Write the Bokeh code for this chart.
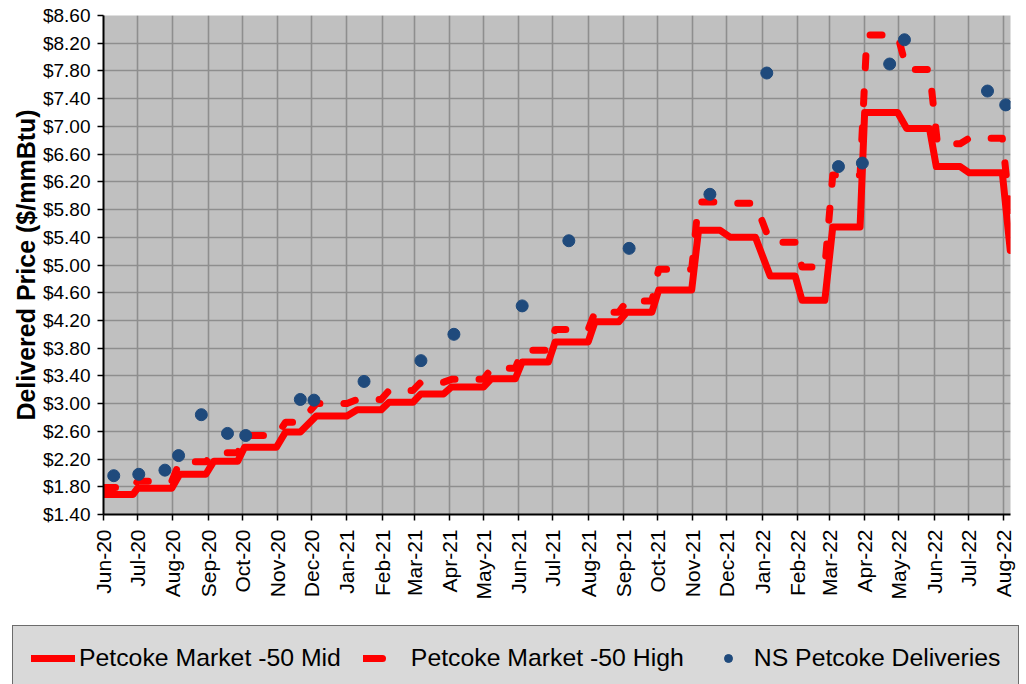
import numpy as np
import pandas as pd
from bokeh.plotting import figure
from bokeh.layouts import column
from bokeh.models import (Legend, LegendItem, FixedTicker, NumeralTickFormatter, Range1d)
from bokeh.embed import file_html
from bokeh.resources import INLINE

# ---------------- data ----------------
mid_dates = ["2020-06-01", "2020-06-27", "2020-07-01", "2020-07-31", "2020-08-07", "2020-08-30",
             "2020-09-06", "2020-09-27", "2020-10-03", "2020-10-31", "2020-11-08", "2020-11-21",
             "2020-12-05", "2021-01-01", "2021-01-10", "2021-01-31", "2021-02-07", "2021-02-28",
             "2021-03-07", "2021-03-27", "2021-04-03", "2021-05-01", "2021-05-08", "2021-05-29",
             "2021-06-04", "2021-06-27", "2021-07-03", "2021-08-01", "2021-08-07", "2021-08-28",
             "2021-09-04", "2021-09-26", "2021-10-02", "2021-10-31", "2021-11-06", "2021-11-25",
             "2021-12-04", "2021-12-26", "2022-01-08", "2022-01-30", "2022-02-05", "2022-02-25",
             "2022-03-04", "2022-03-28", "2022-04-01", "2022-04-30", "2022-05-08", "2022-05-28",
             "2022-06-03", "2022-06-24", "2022-07-02", "2022-07-31", "2022-08-07"]
mid_values = [1.69, 1.69, 1.78, 1.78, 1.98, 1.98, 2.17, 2.17, 2.37, 2.37, 2.59, 2.59,
              2.82, 2.82, 2.91, 2.91, 3.02, 3.02, 3.14, 3.14, 3.24, 3.24, 3.36, 3.36,
              3.60, 3.60, 3.89, 3.89, 4.18, 4.18, 4.32, 4.32, 4.64, 4.64, 5.50, 5.50,
              5.40, 5.40, 4.84, 4.84, 4.49, 4.49, 5.55, 5.55, 7.20, 7.20, 6.97, 6.97,
              6.42, 6.42, 6.33, 6.33, 5.21]

high_dates = ["2020-06-01", "2020-06-27", "2020-07-01", "2020-07-31", "2020-08-07", "2020-08-30",
              "2020-09-06", "2020-09-27", "2020-10-03", "2020-10-31", "2020-11-08", "2020-11-21",
              "2020-12-05", "2021-01-01", "2021-01-10", "2021-01-31", "2021-02-07", "2021-02-28",
              "2021-03-07", "2021-03-27", "2021-04-03", "2021-05-01", "2021-05-08", "2021-05-29",
              "2021-06-04", "2021-06-27", "2021-07-03", "2021-08-01", "2021-08-07", "2021-08-28",
              "2021-09-04", "2021-09-26", "2021-10-02", "2021-10-31", "2021-11-06", "2021-11-25",
              "2021-12-04", "2021-12-26", "2022-01-08", "2022-01-30", "2022-02-05", "2022-02-25",
              "2022-03-04", "2022-03-28", "2022-04-03", "2022-04-30", "2022-05-08", "2022-05-28",
              "2022-06-04", "2022-06-24", "2022-07-02", "2022-07-31", "2022-08-07"]
high_values = [1.79, 1.79, 1.88, 1.88, 2.16, 2.16, 2.29, 2.29, 2.54, 2.54, 2.73, 2.73,
               3.00, 3.00, 3.06, 3.06, 3.19, 3.19, 3.31, 3.31, 3.35, 3.35, 3.51, 3.51,
               3.77, 3.77, 4.07, 4.07, 4.32, 4.32, 4.48, 4.48, 4.94, 4.94, 5.91, 5.91,
               5.89, 5.89, 5.33, 5.33, 4.97, 4.97, 6.30, 6.30, 8.32, 8.32, 7.82, 7.82,
               6.75, 6.75, 6.83, 6.83, 5.75]

dot_dates = ["2020-06-10", "2020-07-02", "2020-07-25", "2020-08-06", "2020-08-26", "2020-09-18",
             "2020-10-04", "2020-11-21", "2020-12-03", "2021-01-16", "2021-03-07", "2021-04-05",
             "2021-06-04", "2021-07-15", "2021-09-06", "2021-11-16", "2022-01-05", "2022-03-09",
             "2022-03-30", "2022-04-23", "2022-05-06", "2022-07-18", "2022-08-03"]
dot_values = [1.96, 1.98, 2.04, 2.25, 2.84, 2.57, 2.54, 3.06, 3.05, 3.32, 3.62, 4.00,
              4.41, 5.35, 5.24, 6.02, 7.77, 6.42, 6.47, 7.90, 8.25, 7.51, 7.31]

tick_dates = ["2020-06-01", "2020-07-01", "2020-08-01", "2020-09-01", "2020-10-01", "2020-11-01",
              "2020-12-01", "2021-01-01", "2021-02-01", "2021-03-01", "2021-04-01", "2021-05-01",
              "2021-06-01", "2021-07-01", "2021-08-01", "2021-09-01", "2021-10-01", "2021-11-01",
              "2021-12-01", "2022-01-01", "2022-02-01", "2022-03-01", "2022-04-01", "2022-05-01",
              "2022-06-01", "2022-07-01", "2022-08-01"]
tick_labels = ["Jun-20", "Jul-20", "Aug-20", "Sep-20", "Oct-20", "Nov-20", "Dec-20", "Jan-21",
               "Feb-21", "Mar-21", "Apr-21", "May-21", "Jun-21", "Jul-21", "Aug-21", "Sep-21",
               "Oct-21", "Nov-21", "Dec-21", "Jan-22", "Feb-22", "Mar-22", "Apr-22", "May-22",
               "Jun-22", "Jul-22", "Aug-22"]
y_ticks = [1.40, 1.80, 2.20, 2.60, 3.00, 3.40, 3.80, 4.20, 4.60, 5.00, 5.40, 5.80,
           6.20, 6.60, 7.00, 7.40, 7.80, 8.20, 8.60]
series_names = ["Petcoke Market -50 Mid", "Petcoke Market -50 High", "NS Petcoke Deliveries"]

# ---------------- figure ----------------
def to_dt(lst):
    return pd.to_datetime(lst)

tick_ms = [float(pd.Timestamp(d).value // 10**6) for d in tick_dates]

FONT = "Liberation Sans"
RED = "#FF0000"
BLUE = "#1F4A7C"

p = figure(frame_width=907, frame_height=499, x_axis_type="datetime",
           output_backend="svg", toolbar_location=None,
           x_range=Range1d(pd.Timestamp("2020-06-01"), pd.Timestamp("2022-08-07 05:00")),
           y_range=Range1d(1.40, 8.60),
           min_border_left=103, min_border_right=16, min_border_top=15, min_border_bottom=106)

p.background_fill_color = "#c0c0c0"
p.border_fill_color = "white"
p.outline_line_color = None

# grids
p.xgrid.ticker = FixedTicker(ticks=tick_ms)
p.ygrid.ticker = FixedTicker(ticks=y_ticks)
for g in (p.xgrid, p.ygrid):
    g.grid_line_color = "#8e8e8e"
    g.grid_line_width = 1.6

# x axis
xa = p.xaxis[0]
xa.ticker = FixedTicker(ticks=tick_ms)
xa.major_label_overrides = {t: l for t, l in zip(tick_ms, tick_labels)}
xa.major_label_orientation = np.pi / 2
xa.major_label_text_font = FONT
xa.major_label_text_font_size = "21px"
xa.major_label_text_color = "black"
xa.major_label_standoff = 9
xa.axis_line_color = "black"
xa.axis_line_width = 2
xa.major_tick_line_color = "black"
xa.major_tick_line_width = 1.5
xa.major_tick_out = 6
xa.major_tick_in = 0
xa.minor_tick_line_color = None

# y axis
ya = p.yaxis[0]
ya.ticker = FixedTicker(ticks=y_ticks)
ya.formatter = NumeralTickFormatter(format="$0.00")
ya.major_label_text_font = FONT
ya.major_label_text_font_size = "19px"
ya.major_label_text_color = "black"
ya.major_label_standoff = 7
ya.axis_line_color = "black"
ya.axis_line_width = 2
ya.major_tick_line_color = "black"
ya.major_tick_line_width = 1.5
ya.major_tick_out = 6
ya.major_tick_in = 0
ya.minor_tick_line_color = None
ya.axis_label = "Delivered Price ($/mmBtu)"
ya.axis_label_text_font = FONT
ya.axis_label_text_font_style = "bold"
ya.axis_label_text_font_size = "25px"
ya.axis_label_text_color = "black"
ya.axis_label_standoff = 0

# series
mid_style = dict(line_color=RED, line_width=7, line_join="round", line_cap="round")
high_style = dict(line_color=RED, line_width=7, line_dash="12 24", line_join="round", line_cap="round")
dot_style = dict(fill_color=BLUE, line_color=BLUE)

p.line(to_dt(mid_dates), mid_values, **mid_style)
p.line(to_dt(high_dates), high_values, **high_style)
p.scatter(to_dt(dot_dates), dot_values, size=12, **dot_style)

# ---------------- legend strip (below the chart) ----------------
# the strip's own ranges keep the series themselves out of view; only the legend shows
lg = figure(width=1026, height=64, output_backend="svg", toolbar_location=None,
            x_range=Range1d(0, 1), y_range=Range1d(0, 1),
            x_axis_location=None, y_axis_location=None, min_border=0)
lg.frame_align = False
lg.outline_line_color = None
lg.grid.visible = False
lg.background_fill_color = "white"
lg.border_fill_color = "white"

k_mid = lg.line(to_dt(mid_dates), mid_values, **mid_style)
k_high = lg.line(to_dt(high_dates), high_values, line_color=RED, line_width=7,
                 line_dash="19 40", line_cap="round")
k_dot = lg.scatter(to_dt(dot_dates), dot_values, size=12, **dot_style)

legend = Legend(items=[LegendItem(label=series_names[0], renderers=[k_mid]),
                       LegendItem(label=series_names[1], renderers=[k_high]),
                       LegendItem(label=series_names[2], renderers=[k_dot])],
                orientation="horizontal", location=(12, -7),
                label_text_font=FONT, label_text_font_size="24.8px", label_text_color="black",
                glyph_width=44, glyph_height=20, label_standoff=4, spacing=22,
                padding=18, margin=0,
                border_line_color="black", border_line_width=1.5,
                background_fill_color="#d9d9d9", background_fill_alpha=1.0)
lg.add_layout(legend, "center")

layout = column(p, lg, spacing=0)
open("out.html", "w").write(file_html(layout, INLINE))
